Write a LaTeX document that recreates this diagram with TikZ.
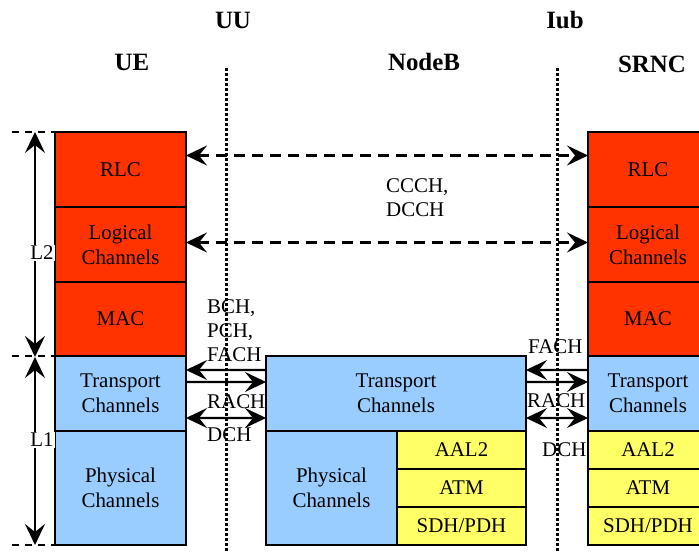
\documentclass[tikz,border=0pt]{standalone}
\usepackage{fontspec}
\setmainfont{Liberation Serif}
\usetikzlibrary{
    arrows.meta,
    positioning,
    calc
}
\definecolor{l2red}{RGB}{255,51,0}
\definecolor{l1blue}{RGB}{153,204,255}
\definecolor{atmyellow}{RGB}{255,255,102}
\tikzset{
  layer/.style   = {draw, line width=2.4bp, inner sep=0pt, outer sep=0pt,
                    align=center, font=\fontsize{21}{25}\selectfont},
  redbox/.style  = {layer, fill=l2red},
  bluebox/.style = {layer, fill=l1blue},
  yelbox/.style  = {layer, fill=atmyellow, minimum width=129bp,
                    minimum height=38bp},
  hdr/.style     = {font=\fontsize{25}{28}\selectfont\bfseries},
  lbl/.style     = {font=\fontsize{21}{24}\selectfont, align=left,
                    inner sep=0pt},
  arr/.style     = {line width=2.4bp},
  darr/.style    = {<->, line width=2.6bp, dash pattern=on 11bp off 7bp},
  divider/.style = {line width=3bp, dash pattern=on 2.7bp off 2.3bp},
  >={Stealth[length=21bp,width=20bp,inset=8bp]}
}

\begin{document}
\begin{tikzpicture}[x=1bp, y=1bp]
    \path[use as bounding box, clip] (0,0) rectangle (699,553);

    % Headers
    \node[hdr] (hUU)  at (233,533) {UU};
    \node[hdr] (hIub) at (565,533) {Iub};
    \node[hdr] (hUE)  at (132,491) {UE};
    \node[hdr] (hNB)  at (424,491) {NodeB};
    \node[hdr] (hRNC) at (652,489) {SRNC};

    % Interface lines
    \draw[divider] (226,485) -- (226,0);
    \draw[divider] (557,485) -- (557,0);

    % UE stack
    \node[redbox, anchor=north west, minimum width=131bp, minimum height=75bp]
      (ueRLC) at (55,421) {RLC};
    \node[redbox, minimum width=131bp, minimum height=75bp]
      (ueLog) [below=0pt of ueRLC] {Logical\\Channels};
    \node[redbox, minimum width=131bp, minimum height=74bp]
      (ueMAC) [below=0pt of ueLog] {MAC};
    \node[bluebox, minimum width=131bp, minimum height=75bp]
      (ueTrans) [below=0pt of ueMAC] {Transport\\Channels};
    \node[bluebox, minimum width=131bp, minimum height=114bp]
      (uePhy) [below=0pt of ueTrans] {Physical\\Channels};

    % NodeB stack
    \node[bluebox, anchor=north west, minimum width=260bp, minimum height=75bp]
      (nbTrans) at (266,197) {Transport\\Channels};
    \node[bluebox, anchor=north west, minimum width=131bp, minimum height=114bp]
      (nbPhy) at (nbTrans.south west) {Physical\\Channels};
    \node[yelbox, anchor=north east] (nbAAL) at (nbTrans.south east) {AAL2};
    \node[yelbox] (nbATM) [below=0pt of nbAAL] {ATM};
    \node[yelbox] (nbSDH) [below=0pt of nbATM] {SDH/PDH};

    % SRNC stack
    \node[redbox, anchor=north west, minimum width=120bp, minimum height=75bp]
      (srRLC) at (588,421) {RLC};
    \node[redbox, minimum width=120bp, minimum height=75bp]
      (srLog) [below=0pt of srRLC] {Logical\\Channels};
    \node[redbox, minimum width=120bp, minimum height=74bp]
      (srMAC) [below=0pt of srLog] {MAC};
    \node[bluebox, minimum width=120bp, minimum height=75bp]
      (srTrans) [below=0pt of srMAC] {Transport\\Channels};
    \node[yelbox, anchor=north west, minimum width=120bp]
      (srAAL) at (srTrans.south west) {AAL2};
    \node[yelbox, minimum width=120bp] (srATM) [below=0pt of srAAL] {ATM};
    \node[yelbox, minimum width=120bp] (srSDH) [below=0pt of srATM] {SDH/PDH};

    % L2 / L1 extent
    \foreach \y/\nm in {421/dTop, 197/dMid, 8/dBot} {
      \coordinate (\nm) at (35,\y);
      \draw[arr, dash pattern=on 7bp off 6bp] (12,\y) -- (ueRLC.west |- 0,\y);
    }
    \draw[arr, <->] (dTop) -- ([yshift=-1bp]dMid);
    \draw[arr, <->] ([yshift=-1bp]dMid) -- (dBot);
    \node[fill=white, inner sep=1bp, font=\fontsize{21}{24}\selectfont]
      (lLtwo) at (42,300) {L2};
    \node[fill=white, inner sep=1bp, font=\fontsize{21}{24}\selectfont]
      (lLone) at (42,113) {L1};

    % Peer links UE -- SRNC
    \draw[darr] ([yshift=14bp]ueRLC.east) -- ([yshift=14bp]srRLC.west);
    \draw[darr] ([yshift=2bp]ueLog.east) -- ([yshift=2bp]srLog.west);
    \node[lbl, anchor=west] (lCCCH) at (386,355) {CCCH,\\DCCH};

    % Transport channels UE -- NodeB
    \draw[arr, <-] ([yshift=-14bp]ueTrans.north east) -- ([yshift=-14bp]nbTrans.north west);
    \draw[arr, ->] ([yshift=-26bp]ueTrans.north east) -- ([yshift=-26bp]nbTrans.north west);
    \draw[arr, <->] ([yshift=-62bp]ueTrans.north east) -- ([yshift=-62bp]nbTrans.north west);
    \node[lbl, anchor=west] (lBCH) at (207,222) {BCH,\\PCH,\\FACH};
    \node[lbl, anchor=west] (lRACHa) at (207,151) {RACH};
    \node[lbl, anchor=west] (lDCHa) at (207,118) {DCH};

    % Transport channels NodeB -- SRNC
    \draw[arr, <-] ([yshift=-14bp]nbTrans.north east) -- ([yshift=-14bp]srTrans.north west);
    \draw[arr, ->] ([yshift=-26bp]nbTrans.north east) -- ([yshift=-26bp]srTrans.north west);
    \draw[arr, <->] ([yshift=-62bp]nbTrans.north east) -- ([yshift=-62bp]srTrans.north west);
    \node[lbl, anchor=west] (lFACH) at (528,206) {FACH};
    \node[lbl, anchor=west] (lRACHb) at (527,152) {RACH};
    \node[lbl, anchor=west] (lDCHb) at (542,103) {DCH};
\end{tikzpicture}
\end{document}
